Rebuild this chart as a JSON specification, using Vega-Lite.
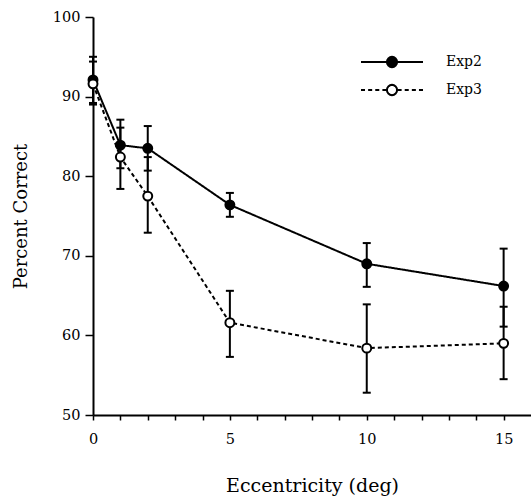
{
  "$schema": "https://vega.github.io/schema/vega-lite/v6.json",
  "width": 438,
  "height": 398,
  "autosize": {"type": "none"},
  "padding": {"left": 93, "top": 17, "right": 0, "bottom": 84},
  "background": "white",
  "config": {
    "view": {"stroke": null},
    "font": "DejaVu Serif",
    "axis": {
      "domainColor": "black",
      "domainWidth": 2,
      "tickColor": "black",
      "tickWidth": 1.5,
      "labelColor": "black",
      "labelFont": "DejaVu Serif",
      "labelFontSize": 14.5,
      "titleFont": "DejaVu Serif",
      "titleFontSize": 18,
      "titleFontWeight": "normal",
      "titleColor": "black",
      "grid": false
    },
    "legend": {"labelFont": "DejaVu Serif"}
  },
  "data": {
    "values": [
      {"series": "Exp2", "ecc": 0, "pc": 92.1, "lo": 89.2, "hi": 95.0},
      {"series": "Exp2", "ecc": 1, "pc": 83.9, "lo": 81.0, "hi": 87.1},
      {"series": "Exp2", "ecc": 2, "pc": 83.5, "lo": 80.7, "hi": 86.3},
      {"series": "Exp2", "ecc": 5, "pc": 76.4, "lo": 74.9, "hi": 77.9},
      {"series": "Exp2", "ecc": 10, "pc": 69.0, "lo": 66.1, "hi": 71.6},
      {"series": "Exp2", "ecc": 15, "pc": 66.2, "lo": 61.1, "hi": 70.9},
      {"series": "Exp3", "ecc": 0, "pc": 91.6, "lo": 89.0, "hi": 94.4},
      {"series": "Exp3", "ecc": 1, "pc": 82.4, "lo": 78.4, "hi": 86.1},
      {"series": "Exp3", "ecc": 2, "pc": 77.5, "lo": 72.9, "hi": 82.4},
      {"series": "Exp3", "ecc": 5, "pc": 61.6, "lo": 57.3, "hi": 65.6},
      {"series": "Exp3", "ecc": 10, "pc": 58.4, "lo": 52.8, "hi": 63.9},
      {"series": "Exp3", "ecc": 15, "pc": 59.0, "lo": 54.5, "hi": 63.6}
    ]
  },
  "encoding": {
    "x": {
      "field": "ecc",
      "type": "quantitative",
      "scale": {"domain": [0, 16], "nice": false, "zero": false},
      "axis": {
        "title": "Eccentricity (deg)",
        "values": [0, 1, 2, 3, 4, 5, 6, 7, 8, 9, 10, 11, 12, 13, 14, 15],
        "labelExpr": "datum.value % 5 === 0 ? datum.label : ''",
        "tickSize": 5,
        "labelPadding": 12,
        "titlePadding": 31,
        "titleFontSize": 19,
        "labelFlush": false,
        "labelOverlap": false
      }
    }
  },
  "layer": [
    {
      "mark": {"type": "line", "color": "black", "strokeWidth": 2},
      "encoding": {
        "y": {
          "field": "pc",
          "type": "quantitative",
          "scale": {"domain": [50, 100], "nice": false, "zero": false},
          "axis": {
            "title": "Percent Correct",
            "values": [50, 55, 60, 65, 70, 75, 80, 85, 90, 95, 100],
            "labelExpr": "datum.value % 10 === 0 ? datum.label : ''",
            "tickSize": {"condition": {"test": "datum.value % 10 === 0", "value": 8}, "value": 4},
            "labelPadding": 5,
            "titlePadding": 22,
            "labelOverlap": false,
            "labelFlush": false
          }
        },
        "strokeDash": {
          "field": "series",
          "type": "nominal",
          "scale": {"range": [[1, 0], [4, 3]]},
          "legend": null
        }
      }
    },
    {
      "mark": {"type": "rule", "color": "black", "strokeWidth": 2},
      "encoding": {
        "y": {"field": "lo", "type": "quantitative"},
        "y2": {"field": "hi"}
      }
    },
    {
      "mark": {"type": "tick", "orient": "horizontal", "size": 8, "thickness": 2, "color": "black", "opacity": 1},
      "encoding": {"y": {"field": "lo", "type": "quantitative"}}
    },
    {
      "mark": {"type": "tick", "orient": "horizontal", "size": 8, "thickness": 2, "color": "black", "opacity": 1},
      "encoding": {"y": {"field": "hi", "type": "quantitative"}}
    },
    {
      "mark": {"type": "point", "shape": "circle", "size": 80, "strokeWidth": 2, "opacity": 1, "stroke": "black"},
      "encoding": {
        "y": {"field": "pc", "type": "quantitative"},
        "fill": {
          "field": "series",
          "type": "nominal",
          "scale": {"range": ["black", "white"]},
          "legend": null
        }
      }
    },
    {
      "transform": [{"filter": "datum.ecc < 0"}],
      "mark": {"type": "point", "filled": true, "color": "black", "strokeWidth": 2, "size": 3844, "opacity": 1},
      "encoding": {
        "y": {"field": "pc", "type": "quantitative"},
        "stroke": {
          "field": "series",
          "type": "nominal",
          "scale": {"domain": ["Exp2", "Exp3"], "range": ["black", "black"]}
        },
        "shape": {
          "field": "series",
          "type": "nominal",
          "scale": {
            "domain": ["Exp2", "Exp3"],
            "range": [
              "M-1,0L1,0M0.165,0L0.152,0.063L0.117,0.117L0.063,0.152L0,0.165L-0.063,0.152L-0.117,0.117L-0.152,0.063L-0.165,0L-0.152,-0.063L-0.117,-0.117L-0.063,-0.152L0,-0.165L0.063,-0.152L0.117,-0.117L0.152,-0.063Z",
              "M-1,0L-0.87,0M-0.77,0L-0.64,0M-0.54,0L-0.41,0M-0.31,0L-0.165,0M0.165,0L0.31,0M0.41,0L0.54,0M0.64,0L0.77,0M0.87,0L1,0M0.165,0L0.152,0.063L0.117,0.117L0.063,0.152L0,0.165L-0.063,0.152L-0.117,0.117L-0.152,0.063L-0.165,0L-0.152,-0.063L-0.117,-0.117L-0.063,-0.152L0,-0.165L0.063,-0.152L0.117,-0.117L0.152,-0.063ZM0.165,0L0.152,-0.063L0.117,-0.117L0.063,-0.152L0,-0.165L-0.063,-0.152L-0.117,-0.117L-0.152,-0.063L-0.165,0L-0.152,0.063L-0.117,0.117L-0.063,0.152L0,0.165L0.063,0.152L0.117,0.117L0.152,0.063Z"
            ]
          },
          "legend": {
            "title": null,
            "orient": "none",
            "legendX": 267,
            "legendY": 31,
            "padding": 0,
            "labelFont": "DejaVu Serif",
            "labelFontSize": 14,
            "labelColor": "black",
            "labelOffset": 22,
            "symbolSize": 3844,
            "symbolStrokeWidth": 2,
            "symbolOpacity": 1,
            "clipHeight": 28,
            "rowPadding": 0
          }
        }
      }
    }
  ]
}
